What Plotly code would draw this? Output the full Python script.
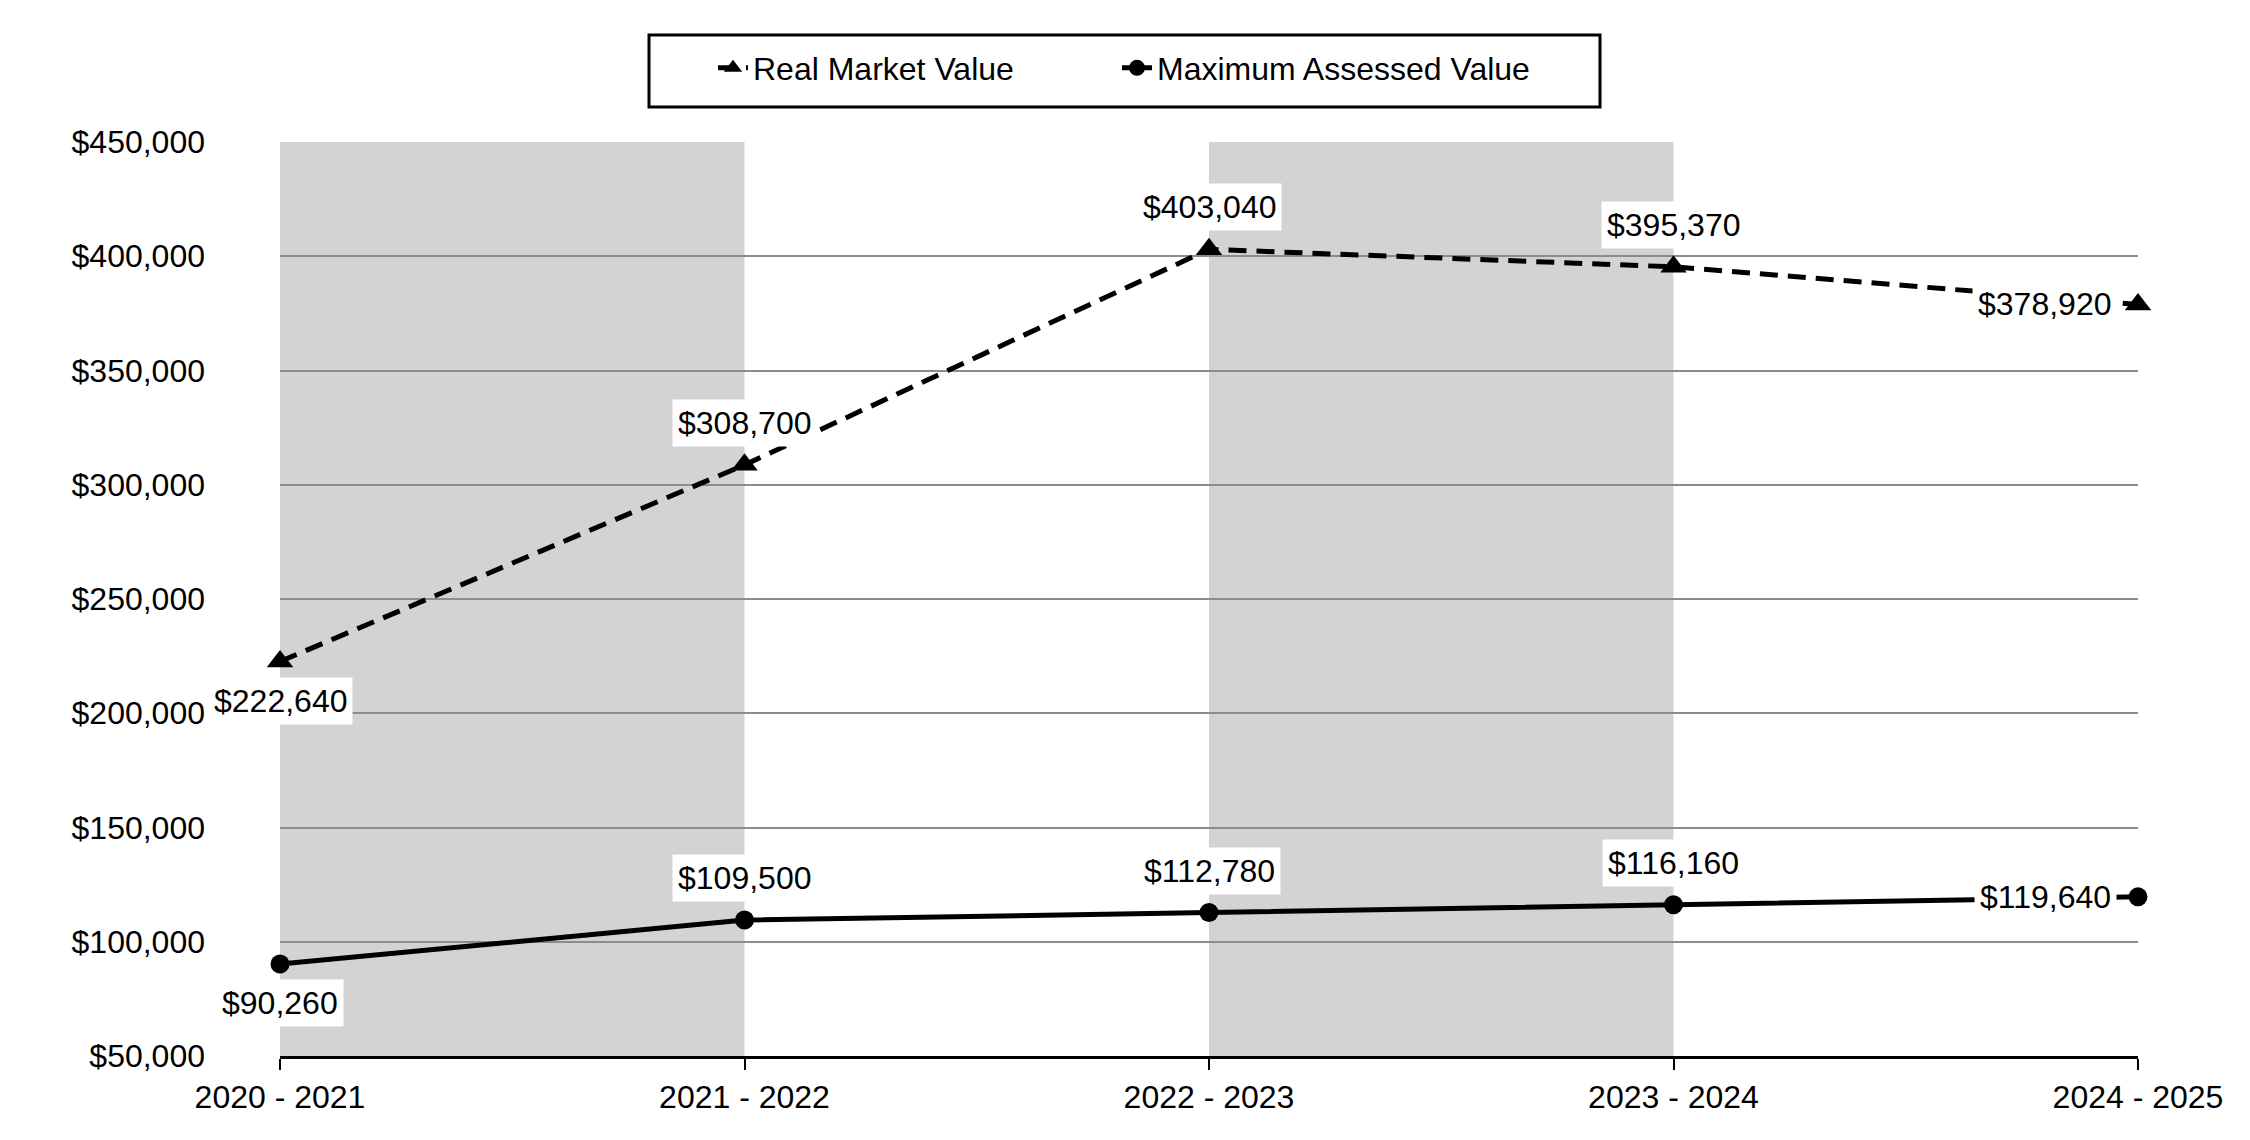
import plotly.graph_objects as go

years = ["2020 - 2021", "2021 - 2022", "2022 - 2023", "2023 - 2024", "2024 - 2025"]
real_market_value = [222640, 308700, 403040, 395370, 378920]
max_assessed_value = [90260, 109500, 112780, 116160, 119640]
rmv_label_pos = ["below", "above", "above", "above", "left"]
mav_label_pos = ["below", "above", "above", "above", "left"]
y_ticks = list(range(50000, 450001, 50000))

FONT = "Arial, Liberation Sans, sans-serif"

# page body has an 8px margin; figure sized so the plot lands where the reference has it
W, H = 2242, 1132
ML, MR, MT, MB = 272, 112, 134, 84
PW, PH = W - ML - MR, H - MT - MB

fig = go.Figure()

fig.add_trace(go.Scatter(
    x=years, y=real_market_value, name="Real Market Value",
    mode="lines+markers", legend="legend", cliponaxis=False,
    line=dict(color="black", width=5, dash="18px,10px"),
    marker=dict(symbol="triangle-up", size=23, color="black"),
))
fig.add_trace(go.Scatter(
    x=years, y=max_assessed_value, name="Maximum Assessed Value",
    mode="lines+markers", legend="legend2", cliponaxis=False,
    line=dict(color="black", width=5),
    marker=dict(symbol="circle", size=19, color="black"),
))

# alternating shaded bands between categories
for i in range(0, len(years) - 1, 2):
    fig.add_shape(type="rect", xref="x", yref="y",
                  x0=i, x1=i + 1, y0=y_ticks[0], y1=y_ticks[-1],
                  fillcolor="#d3d3d3", line=dict(width=0), layer="below")

# legend frame (absolute page px -> paper coords)
def px_x(px):
    return (px - 8 - ML) / PW

def px_y(py):
    return 1 - (py - 8 - MT) / PH

fig.add_shape(type="rect", xref="paper", yref="paper",
              x0=px_x(649), x1=px_x(1600), y0=px_y(107), y1=px_y(35),
              line=dict(color="black", width=3), fillcolor="white", layer="above")

def add_labels(values, positions):
    for xv, v, p in zip(years, values, positions):
        kw = dict(x=xv, y=v, xref="x", yref="y", text=f"${v:,}", showarrow=False,
                  font=dict(family=FONT, size=32, color="black"),
                  bgcolor="white", borderpad=5)
        if p == "above":
            kw.update(yshift=42)
        elif p == "below":
            kw.update(yshift=-39)
        elif p == "left":
            kw.update(xanchor="right", xshift=-21)
        fig.add_annotation(**kw)

add_labels(real_market_value, rmv_label_pos)
add_labels(max_assessed_value, mav_label_pos)

def legend_at(text_left_px):
    return dict(orientation="h", xref="container", yref="container",
                x=(text_left_px - 8 - 40) / W, xanchor="left",
                y=1 - (68 - 8) / H, yanchor="middle",
                borderwidth=0, bgcolor="rgba(0,0,0,0)",
                font=dict(family=FONT, size=32, color="black"))

fig.update_layout(
    width=W, height=H,
    margin=dict(l=ML, r=MR, t=MT, b=MB),
    paper_bgcolor="white", plot_bgcolor="white",
    font=dict(family=FONT, size=32, color="black"),
    showlegend=True,
    legend=legend_at(753),
    legend2=legend_at(1157),
)
fig.update_xaxes(
    type="category", range=[0, len(years) - 1],
    showgrid=False, showline=True, linecolor="black", linewidth=3,
    ticks="outside", ticklen=11, tickwidth=2, tickcolor="black",
    tickfont=dict(family=FONT, size=32, color="black"),
    zeroline=False,
)
fig.update_yaxes(
    range=[y_ticks[0], y_ticks[-1]], tickvals=y_ticks,
    ticktext=[f"${v:,}" for v in y_ticks],
    showgrid=True, gridcolor="#8c8c8c", gridwidth=2,
    showline=False, ticks="", ticklabelstandoff=74,
    tickfont=dict(family=FONT, size=32, color="black"),
    zeroline=False,
)

fig.write_html("out.html")
